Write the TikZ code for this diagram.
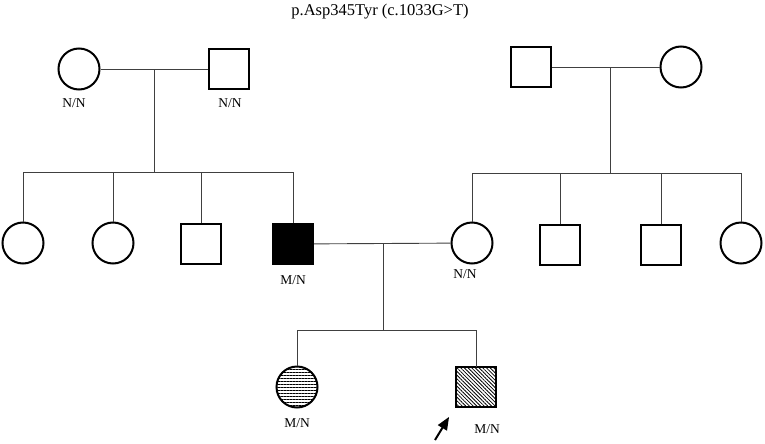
\documentclass[tikz,border=0pt]{standalone}
\usepackage{fontspec}
\setmainfont{Liberation Serif}
\usepackage{tikz}
\usetikzlibrary{arrows, patterns.meta}
\tikzset{
  female/.style={circle, draw, line width=2pt, minimum size=41pt, inner sep=0pt},
  male/.style={rectangle, draw, line width=2pt, minimum size=40pt, inner sep=0pt},
  tie/.style={line width=0.9pt, black!75},
  geno/.style={font=\fontsize{13.5}{15}\selectfont, inner sep=0pt}
}
\begin{document}
\begin{tikzpicture}[x=1pt,y=-1pt]
\useasboundingbox (0,0) rectangle (765,444);
\node[font=\fontsize{16.5}{18}\selectfont] (title) at (380,12) {p.Asp345Tyr (c.1033G>T)};
% first generation
\node[female] (gf) at (79,69) {};
\node[male] (gm) at (229,69) {};
\node[male] (hm) at (531,67) {};
\node[female] (hf) at (681,67) {};
% second generation
\node[female] (a1) at (23,243) {};
\node[female] (a2) at (113,243) {};
\node[male] (a3) at (201,244) {};
\node[male, fill=black] (dad) at (293,244) {};
\node[female] (mum) at (472,243) {};
\node[male] (b2) at (560,245) {};
\node[male] (b3) at (661,245) {};
\node[female] (b4) at (741,243) {};
% third generation
\node[female, pattern={Lines[angle=0,distance=3pt,line width=0.9pt]}] (sis) at (297,387) {};
\node[male, pattern={Lines[angle=-45,distance=2.6pt,line width=0.8pt]}] (pro) at (476,387) {};
% genotypes
\node[geno] (l1) at (74,103) {N/N};
\node[geno] (l2) at (230,103) {N/N};
\node[geno] (l3) at (293,280) {M/N};
\node[geno] (l4) at (465,274) {N/N};
\node[geno] (l5) at (297,423) {M/N};
\node[geno] (l6) at (487,429) {M/N};
% junctions
\coordinate (gx) at (154,69);
\coordinate (gs) at (154,172);
\coordinate (hx) at (610,68);
\coordinate (hs) at (610,173);
\coordinate (px) at (383,244);
\coordinate (ps) at (383,330);
\draw[tie] (gf) -- (gm);
\draw[tie] (hm) -- (hf);
\draw[tie] (dad) -- (mum);
\draw[tie] (gx) -- (gs);
\draw[tie] (hx) -- (hs);
\draw[tie] (px) -- (ps);
\draw[tie] (a1.north |- gs) -- (dad.north |- gs);
\draw[tie] (mum.north |- hs) -- (b4.north |- hs);
\draw[tie] (sis.north |- ps) -- (pro.north |- ps);
\foreach \k in {a1,a2,a3,dad}
  \draw[tie] (\k.north) -- (\k.north |- gs);
\foreach \k in {mum,b2,b3,b4}
  \draw[tie] (\k.north) -- (\k.north |- hs);
\foreach \k in {sis,pro}
  \draw[tie] (\k.north) -- (\k.north |- ps);
% proband arrow
\coordinate (ptail) at (435,440);
\draw[line width=2pt, -triangle 45] (ptail) -- (449,417);
\end{tikzpicture}
\end{document}
